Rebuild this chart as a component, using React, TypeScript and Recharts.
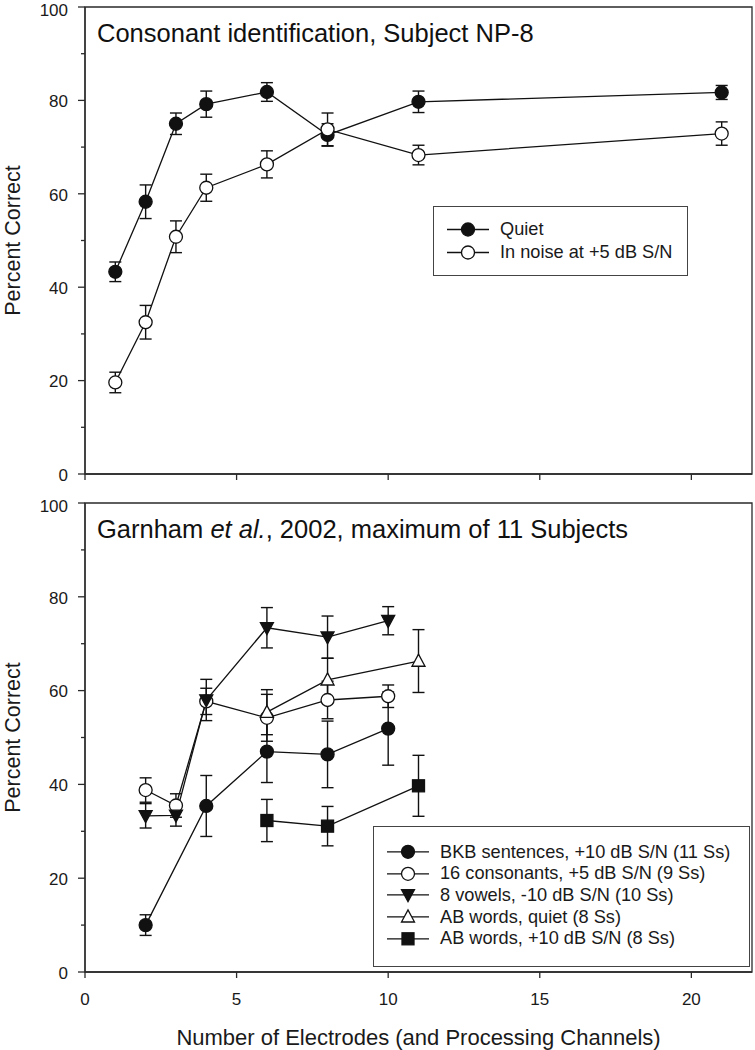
import React from "react";
import { LineChart, Line, XAxis, YAxis, ErrorBar, ReferenceArea, Legend, Label } from "recharts";

// Top panel: consonant identification, subject NP-8
const electrodesNP8 = [1, 2, 3, 4, 6, 8, 11, 21];
const quietMean = [43.3, 58.3, 75.0, 79.2, 81.8, 72.6, 79.7, 81.7];
const quietErr = [2.1, 3.6, 2.3, 2.8, 2.0, 2.4, 2.3, 1.5];
const noiseMean = [19.6, 32.5, 50.8, 61.3, 66.3, 73.8, 68.3, 72.9];
const noiseErr = [2.2, 3.6, 3.4, 2.9, 2.9, 3.5, 2.1, 2.5];

// Bottom panel: Garnham et al. 2002
const bkbX = [2, 4, 6, 8, 10];
const bkbMean = [10.0, 35.4, 47.0, 46.4, 51.9];
const bkbErr = [2.2, 6.5, 6.6, 7.1, 7.8];
const consX = [2, 3, 4, 6, 8, 10];
const consMean = [38.8, 35.5, 57.7, 54.2, 58.0, 58.8];
const consErr = [2.6, 2.5, 2.8, 5.0, 4.0, 2.4];
const vowelX = [2, 3, 4, 6, 8, 10];
const vowelMean = [33.3, 33.4, 58.0, 73.4, 71.4, 74.9];
const vowelErr = [2.6, 2.3, 4.4, 4.3, 4.5, 3.0];
const abQuietX = [6, 8, 11];
const abQuietMean = [55.4, 62.3, 66.3];
const abQuietErr = [4.8, 4.6, 6.7];
const abNoiseX = [6, 8, 11];
const abNoiseMean = [32.3, 31.1, 39.7];
const abNoiseErr = [4.5, 4.2, 6.5];

const xTicks = [0, 5, 10, 15, 20];
const yTicks = [0, 10, 20, 30, 40, 50, 60, 70, 80, 90, 100];

const topNames = ["Quiet", "In noise at +5 dB S/N"];
const bottomNames = [
  "BKB sentences, +10 dB S/N (11 Ss)",
  "16 consonants, +5 dB S/N (9 Ss)",
  "8 vowels, -10 dB S/N (10 Ss)",
  "AB words, quiet (8 Ss)",
  "AB words, +10 dB S/N (8 Ss)",
];

const FONT = '"Liberation Sans", Arial, Helvetica, sans-serif';
const INK = "#111";
const AXIS = "#2a2a2a";

type Shape = "circleFilled" | "circleOpen" | "triDown" | "triUp" | "square";

const rows = (xs: number[], ys: number[], es: number[]) =>
  xs.map((x, i) => ({ x, y: ys[i], err: es[i] }));

const topSeries = [
  { name: topNames[0], shape: "circleFilled" as Shape, data: rows(electrodesNP8, quietMean, quietErr) },
  { name: topNames[1], shape: "circleOpen" as Shape, data: rows(electrodesNP8, noiseMean, noiseErr) },
];

const bottomSeries = [
  { name: bottomNames[0], shape: "circleFilled" as Shape, data: rows(bkbX, bkbMean, bkbErr) },
  { name: bottomNames[1], shape: "circleOpen" as Shape, data: rows(consX, consMean, consErr) },
  { name: bottomNames[2], shape: "triDown" as Shape, data: rows(vowelX, vowelMean, vowelErr) },
  { name: bottomNames[3], shape: "triUp" as Shape, data: rows(abQuietX, abQuietMean, abQuietErr) },
  { name: bottomNames[4], shape: "square" as Shape, data: rows(abNoiseX, abNoiseMean, abNoiseErr) },
];

function Marker({ shape, cx, cy, size = 13 }: { shape: Shape; cx: number; cy: number; size?: number }) {
  const h = size / 2;
  const common = { stroke: INK, strokeWidth: 1.3 };
  switch (shape) {
    case "circleFilled":
      return <circle cx={cx} cy={cy} r={h} fill={INK} {...common} />;
    case "circleOpen":
      return <circle cx={cx} cy={cy} r={h} fill="#fff" {...common} />;
    case "triDown":
      return (
        <polygon
          points={`${cx - h},${cy - h * 0.8} ${cx + h},${cy - h * 0.8} ${cx},${cy + h * 1.05}`}
          fill={INK}
          {...common}
        />
      );
    case "triUp":
      return (
        <polygon
          points={`${cx - h},${cy + h * 0.8} ${cx + h},${cy + h * 0.8} ${cx},${cy - h * 1.05}`}
          fill="#fff"
          {...common}
        />
      );
    default:
      return <rect x={cx - h + 0.5} y={cy - h + 0.5} width={size - 1} height={size - 1} fill={INK} {...common} />;
  }
}

const makeDot = (shape: Shape) => (p: any) => {
  if (p.cx == null || p.cy == null) return <g key={p.index} />;
  return (
    <g key={p.index}>
      <Marker shape={shape} cx={p.cx} cy={p.cy} />
    </g>
  );
};

const YTick = (p: any) => {
  const v = p.payload.value;
  const major = v % 20 === 0;
  const axisX = p.x + 7 + 10;
  return (
    <g>
      <line x1={axisX - (major ? 7 : 4)} x2={axisX} y1={p.y} y2={p.y} stroke={AXIS} strokeWidth={1.3} />
      {major && (
        <text x={p.x} y={p.y} dy={v === 100 ? "0.52em" : "0.4em"} textAnchor="end" fontSize={17} fill="#1a1a1a">
          {v}
        </text>
      )}
    </g>
  );
};

const yTitle = (p: any) => {
  const vb = p.viewBox || {};
  const cy = (vb.y ?? 0) + (vb.height ?? 0) / 2;
  return (
    <text x={19.5} y={cy} transform={`rotate(-90, 19.5, ${cy})`} textAnchor="middle" fontSize={21.5} fill="#1a1a1a">
      Percent Correct
    </text>
  );
};

const LegendBox = ({
  items,
  width,
  rowH,
  padTop,
  padBottom,
}: {
  items: { name: string; shape: Shape }[];
  width: number;
  rowH: number;
  padTop: number;
  padBottom: number;
}) => (
  <div
    style={{
      width,
      boxSizing: "border-box",
      border: "1px solid #444",
      background: "#fff",
      padding: `${padTop}px 0 ${padBottom}px 0`,
      fontFamily: FONT,
      fontSize: 18.2,
      color: "#1a1a1a",
    }}
  >
    {items.map((it) => (
      <div key={it.name} style={{ display: "flex", alignItems: "center", height: rowH }}>
        <svg width={55} height={rowH} style={{ flex: "none", display: "block" }}>
          <line x1={13} x2={55} y1={rowH / 2} y2={rowH / 2} stroke={INK} strokeWidth={1.3} />
          <Marker shape={it.shape} cx={34} cy={rowH / 2} />
        </svg>
        <span style={{ marginLeft: 11, whiteSpace: "nowrap", lineHeight: 1 }}>{it.name}</span>
      </div>
    ))}
  </div>
);

const renderSeries = (s: { name: string; shape: Shape; data: any[] }) => (
  <Line
    key={s.name}
    name={s.name}
    data={s.data}
    dataKey="y"
    type="linear"
    stroke={INK}
    strokeWidth={1.3}
    dot={makeDot(s.shape)}
    activeDot={false}
    isAnimationActive={false}
  >
    <ErrorBar dataKey="err" direction="y" width={6} stroke={INK} strokeWidth={1.4} />
  </Line>
);

export default function App() {
  return (
    <div
      style={{
        position: "absolute",
        left: 0,
        top: 0,
        width: 755,
        height: 1050,
        background: "#fff",
        fontFamily: FONT,
        overflow: "hidden",
      }}
    >
      <div style={{ position: "absolute", left: 0, top: 0 }}>
        <LineChart width={755} height={500} margin={{ top: 7, right: 3, bottom: 0, left: 0 }}>
          <XAxis
            dataKey="x"
            type="number"
            domain={[0, 22]}
            ticks={xTicks}
            interval={0}
            height={26}
            tickSize={6}
            tickFormatter={() => ""}
            stroke={AXIS}
            strokeWidth={1.3}
          />
          <YAxis
            type="number"
            domain={[0, 100]}
            ticks={yTicks}
            interval={0}
            width={85}
            tickSize={7}
            tickMargin={10}
            tickLine={false}
            tick={<YTick />}
            stroke={AXIS}
            strokeWidth={1.3}
          >
            <Label content={yTitle} />
          </YAxis>
          <ReferenceArea
            x1={0}
            x2={22}
            y1={0}
            y2={100}
            fill="none"
            stroke={AXIS}
            strokeWidth={1.3}
            label={(p: any) => (
              <text x={p.viewBox.x + 12} y={p.viewBox.y + 34.6} fontSize={25.5} fill="#111">
                Consonant identification, Subject NP-8
              </text>
            )}
          />
          {topSeries.map(renderSeries)}
          <Legend
            layout="vertical"
            align="center"
            verticalAlign="middle"
            wrapperStyle={{ left: 433, top: 206, width: 255 }}
            content={() => <LegendBox items={topSeries} width={255} rowH={23} padTop={10.5} padBottom={11.5} />}
          />
        </LineChart>
      </div>

      <div style={{ position: "absolute", left: 0, top: 490 }}>
        <LineChart width={755} height={560} margin={{ top: 13, right: 3, bottom: 0, left: 0 }}>
          <XAxis
            dataKey="x"
            type="number"
            domain={[0, 22]}
            ticks={xTicks}
            interval={0}
            height={78}
            tickSize={6}
            tickMargin={15}
            tick={{ fontSize: 17, fill: "#1a1a1a" }}
            stroke={AXIS}
            strokeWidth={1.3}
          >
            <Label
              content={(p: any) => {
                const vb = p.viewBox || {};
                return (
                  <text
                    x={(vb.x ?? 0) + (vb.width ?? 0) / 2}
                    y={(vb.y ?? 0) + (vb.height ?? 0) - 5}
                    textAnchor="middle"
                    fontSize={22}
                    fill="#1a1a1a"
                  >
                    Number of Electrodes (and Processing Channels)
                  </text>
                );
              }}
            />
          </XAxis>
          <YAxis
            type="number"
            domain={[0, 100]}
            ticks={yTicks}
            interval={0}
            width={85}
            tickSize={7}
            tickMargin={10}
            tickLine={false}
            tick={<YTick />}
            stroke={AXIS}
            strokeWidth={1.3}
          >
            <Label content={yTitle} />
          </YAxis>
          <ReferenceArea
            x1={0}
            x2={22}
            y1={0}
            y2={100}
            fill="none"
            stroke={AXIS}
            strokeWidth={1.3}
            label={(p: any) => (
              <text x={p.viewBox.x + 12} y={p.viewBox.y + 34.6} fontSize={25.5} fill="#111">
                <tspan>{"Garnham "}</tspan>
                <tspan fontStyle="italic">et al.</tspan>
                <tspan>{", 2002, maximum of 11 Subjects"}</tspan>
              </text>
            )}
          />
          {bottomSeries.map(renderSeries)}
          <Legend
            layout="vertical"
            align="center"
            verticalAlign="middle"
            wrapperStyle={{ left: 373, top: 336, width: 377 }}
            content={() => <LegendBox items={bottomSeries} width={377} rowH={21.6} padTop={14.2} padBottom={16.8} />}
          />
        </LineChart>
      </div>
    </div>
  );
}
